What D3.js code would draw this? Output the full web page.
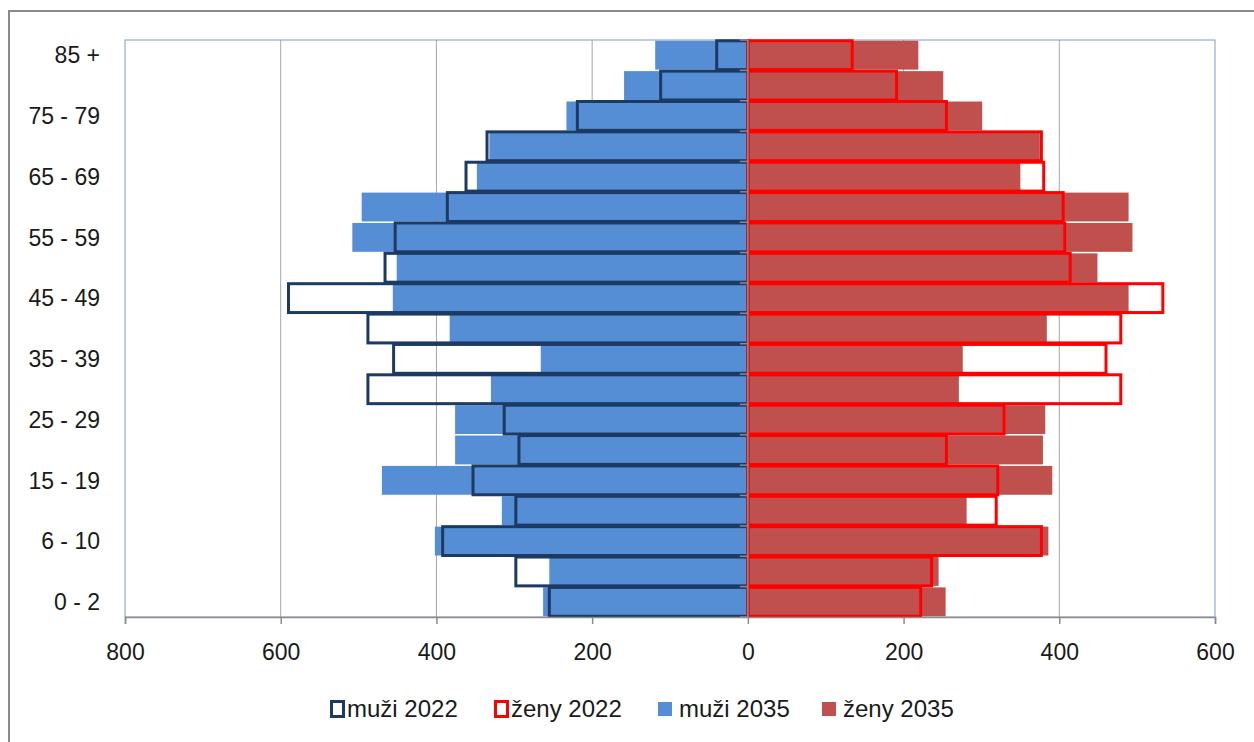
<!DOCTYPE html>
<html>
<head>
<meta charset="utf-8">
<script src="https://cdn.jsdelivr.net/npm/d3@7"></script>
<style>
  body { margin: 0; background: #fff; }
  svg text { font-family: "Liberation Sans", Arial, sans-serif; fill: #1a1a1a; }
</style>
</head>
<body>
<svg id="chart" width="1254" height="742"></svg>
<script>
// age groups, bottom to top
var ageGroups = ["0 - 2", "3 - 5", "6 - 10", "11 - 14", "15 - 19", "20 - 24", "25 - 29", "30 - 34", "35 - 39",
    "40 - 44", "45 - 49", "50 - 54", "55 - 59", "60 - 64", "65 - 69", "70 - 74", "75 - 79", "80 - 84", "85 +"];

var muzi2022 = [255, 298, 392, 298, 353, 294, 313, 488, 455, 488, 590, 466, 453, 386, 362, 335, 219, 112, 40];
var zeny2022 = [222, 236, 377, 319, 321, 255, 329, 479, 460, 479, 533, 414, 407, 405, 380, 377, 255, 191, 134];
var muzi2035 = [263, 255, 402, 316, 470, 376, 376, 330, 266, 383, 456, 451, 508, 496, 348, 332, 233, 159, 119];
var zeny2035 = [254, 245, 386, 281, 391, 379, 382, 271, 276, 384, 489, 449, 494, 489, 350, 375, 301, 251, 219];

var xTicks = [-800, -600, -400, -200, 0, 200, 400, 600];
var legendItems = ["muži 2022", "ženy 2022", "muži 2035", "ženy 2035"];

var colors = {
    muzi2022: "#1c3a64",
    zeny2022: "#ff0000",
    muzi2035: "#558ed5",
    zeny2035: "#c0504d"
};

var svg = d3.select("#chart");

var plotLeft = 125, plotRight = 1215, plotTop = 40, plotBottom = 617;

var x = d3.scaleLinear().domain([-800, 600]).range([plotLeft, plotRight]);
var y = d3.scaleBand().domain(ageGroups).range([plotBottom, plotTop]).paddingInner(0.05).paddingOuter(0.025);

// outer chart frame (cut off on right and bottom in the original)
svg.append("rect")
    .attr("x", 9).attr("y", 11)
    .attr("width", 1300).attr("height", 800)
    .attr("fill", "none")
    .attr("stroke", "#8a8a8a")
    .attr("stroke-width", 2);

// gridlines
svg.append("g")
    .selectAll("line")
    .data(xTicks.filter(function(d) { return d !== 0 && d !== -800 && d !== 600; }))
    .enter().append("line")
    .attr("x1", function(d) { return x(d); })
    .attr("x2", function(d) { return x(d); })
    .attr("y1", plotTop).attr("y2", plotBottom)
    .attr("stroke", "#a6a6a6")
    .attr("stroke-width", 1);

// plot area border
svg.append("rect")
    .attr("x", plotLeft).attr("y", plotTop)
    .attr("width", plotRight - plotLeft).attr("height", plotBottom - plotTop)
    .attr("fill", "none")
    .attr("stroke", "#7f9cc4")
    .attr("stroke-width", 1);

function rows(vals, side) {
    return ageGroups.map(function(a, i) { return { age: a, v: vals[i] * side }; });
}

// filled bars (2035)
svg.append("g").selectAll("rect")
    .data(rows(muzi2035, -1))
    .enter().append("rect")
    .attr("x", function(d) { return x(d.v); })
    .attr("width", function(d) { return x(0) - x(d.v); })
    .attr("y", function(d) { return y(d.age); })
    .attr("height", y.bandwidth())
    .attr("fill", colors.muzi2035);

svg.append("g").selectAll("rect")
    .data(rows(zeny2035, 1))
    .enter().append("rect")
    .attr("x", x(0))
    .attr("width", function(d) { return x(d.v) - x(0); })
    .attr("y", function(d) { return y(d.age); })
    .attr("height", y.bandwidth())
    .attr("fill", colors.zeny2035);

// outline bars (2022)
svg.append("g").selectAll("rect")
    .data(rows(muzi2022, -1))
    .enter().append("rect")
    .attr("x", function(d) { return x(d.v); })
    .attr("width", function(d) { return x(0) - x(d.v); })
    .attr("y", function(d) { return y(d.age); })
    .attr("height", y.bandwidth())
    .attr("fill", "none")
    .attr("stroke", colors.muzi2022)
    .attr("stroke-width", 3);

svg.append("g").selectAll("rect")
    .data(rows(zeny2022, 1))
    .enter().append("rect")
    .attr("x", x(0))
    .attr("width", function(d) { return x(d.v) - x(0); })
    .attr("y", function(d) { return y(d.age); })
    .attr("height", y.bandwidth())
    .attr("fill", "none")
    .attr("stroke", colors.zeny2022)
    .attr("stroke-width", 3);

// x axis
var xAxis = svg.append("g")
    .attr("transform", "translate(0," + plotBottom + ")")
    .call(d3.axisBottom(x).tickValues(xTicks).tickSize(7).tickFormat(function(d) { return Math.abs(d); }));
xAxis.select(".domain").attr("stroke", "#8c8c8c").attr("stroke-width", 1.5);
xAxis.selectAll(".tick line").attr("stroke", "#8c8c8c").attr("stroke-width", 1.5);
xAxis.selectAll(".tick text")
    .attr("y", 43).attr("dy", 0)
    .attr("font-size", 23)
    .attr("font-family", "Liberation Sans, Arial, sans-serif")
    .attr("fill", "#1a1a1a");

// category axis at zero
var step = y.step();
var zero = x(0);
var catAxis = svg.append("g");
catAxis.append("line")
    .attr("x1", zero).attr("x2", zero)
    .attr("y1", plotTop).attr("y2", plotBottom)
    .attr("stroke", "#8c8c8c")
    .attr("stroke-width", 1.5);
catAxis.selectAll("line.tk")
    .data(d3.range(ageGroups.length + 1))
    .enter().append("line")
    .attr("class", "tk")
    .attr("x1", zero - 8).attr("x2", zero)
    .attr("y1", function(i) { return plotBottom - i * step; })
    .attr("y2", function(i) { return plotBottom - i * step; })
    .attr("stroke", "#8c8c8c")
    .attr("stroke-width", 1.5);

// category labels, every other one
svg.append("g").selectAll("text")
    .data(ageGroups.filter(function(d, i) { return i % 2 === 0; }))
    .enter().append("text")
    .attr("x", 100)
    .attr("y", function(d) { return y(d) + y.bandwidth() / 2; })
    .attr("dy", "0.36em")
    .attr("text-anchor", "end")
    .attr("font-size", 23)
    .text(function(d) { return d; });

// legend
var lx = d3.scaleBand().domain(legendItems).range([330, 986]);
var legend = svg.append("g").selectAll("g")
    .data(legendItems)
    .enter().append("g")
    .attr("transform", function(d) { return "translate(" + lx(d) + ",0)"; });

legend.each(function(d, i) {
    var g = d3.select(this);
    var key = ["muzi2022", "zeny2022", "muzi2035", "zeny2035"][i];
    if (i < 2) {
        g.append("rect")
            .attr("x", 1.5).attr("y", 701.5)
            .attr("width", 12).attr("height", 15)
            .attr("fill", "#fff")
            .attr("stroke", colors[key])
            .attr("stroke-width", 3);
        g.append("text").attr("x", 17).attr("y", 717).attr("font-size", 24).text(d);
    } else {
        g.append("rect")
            .attr("x", 0).attr("y", 702)
            .attr("width", 14).attr("height", 14)
            .attr("fill", colors[key]);
        g.append("text").attr("x", 21).attr("y", 717).attr("font-size", 24).text(d);
    }
});
</script>
</body>
</html>
